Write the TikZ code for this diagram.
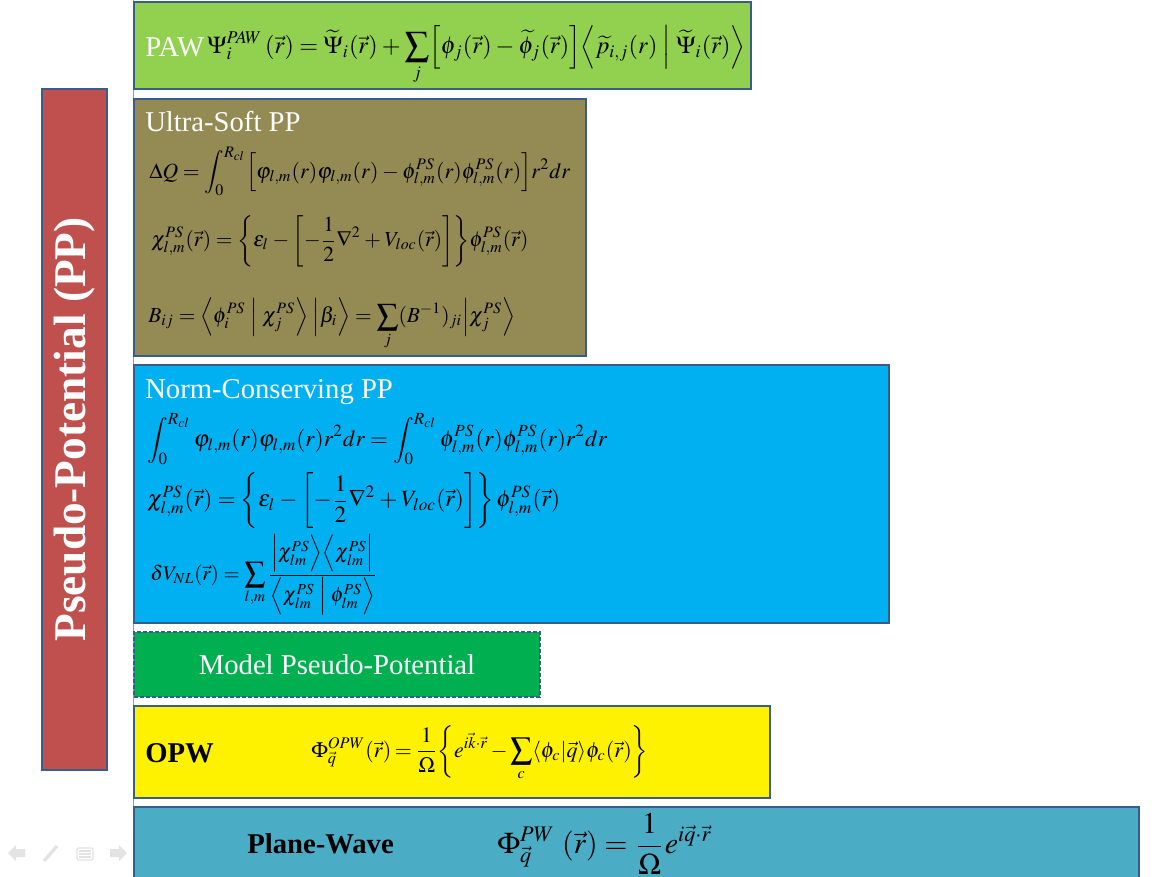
\documentclass[tikz,border=0pt]{standalone}
\usepackage{mathptmx}
\usepackage[no-math]{fontspec}
\setmainfont{Liberation Serif}
\usepackage{graphicx}

\definecolor{edgeblue}{HTML}{385D8A}
\definecolor{pawgreen}{HTML}{92D050}
\definecolor{usolive}{HTML}{948A54}
\definecolor{ncblue}{HTML}{00B0F0}
\definecolor{modelgreen}{HTML}{00B050}
\definecolor{ppred}{HTML}{C0504D}
\definecolor{pwteal}{HTML}{4BACC6}
\definecolor{navgray}{HTML}{E3E3E3}

\newlength\pxu
\setlength\pxu{0.75pt}
% width (in px), formula
\newcommand\eqfit[2]{\resizebox{#1\pxu}{!}{$\thickmuskip=4mu\medmuskip=3mu\displaystyle #2$}}

\tikzset{
  layer/.style={draw=edgeblue, line width=1.5pt, anchor=north west, inner sep=0pt},
  title/.style={anchor=base west, inner sep=0pt, font=\fontsize{21.5}{24}\selectfont},
  eq/.style={anchor=west, inner sep=0pt},
}

\begin{document}
\begin{tikzpicture}[x=0.75pt, y=-0.75pt]
  \useasboundingbox (0,0) rectangle (1170,876);
  % axis line behind the layers
  \coordinate (axtop) at (133,0);
  \coordinate (axbot) at (133,876);
  \draw[edgeblue!60, line width=0.6pt] (axtop) -- (axbot);

  % layers, top to bottom
  \node[layer, fill=pawgreen, minimum width=617\pxu, minimum height=87\pxu] (paw) at (133,1) {};
  \node[layer, fill=usolive, minimum width=452\pxu, minimum height=257\pxu] (uspp) at (133,98) {};
  \node[layer, fill=ncblue, minimum width=755\pxu, minimum height=258\pxu] (ncpp) at (133,364) {};
  \node[layer, fill=modelgreen, dash pattern=on 3pt off 1.5pt, minimum width=406\pxu, minimum height=65\pxu] (model) at (133,631) {};
  \node[layer, fill=yellow, minimum width=636\pxu, minimum height=92\pxu] (opw) at (133,705) {};
  \node[layer, fill=pwteal, minimum width=1005\pxu, minimum height=100\pxu] (pw) at (133,806) {};
  \node[layer, fill=ppred, minimum width=65\pxu, minimum height=681\pxu] (pp) at (41,88) {};

  \node[rotate=90, text=white, font=\bfseries\fontsize{34}{36}\selectfont] (pplabel) at (pp.center) {Pseudo-Potential (PP)};

  % PAW
  \node[title, text=white] (pawlabel) at (145,56) {PAW};
  \node[eq] (paweq) at (207,55) {\eqfit{538}{\Psi_i^{PAW}\,(\vec r)=\widetilde\Psi_i(\vec r)+\sum_j\Bigl[\phi_j(\vec r)-\widetilde\phi_j(\vec r)\Bigr]\Bigl\langle\widetilde p_{i,j}(r)\Bigm|\widetilde\Psi_i(\vec r)\Bigr\rangle}};

  % Ultra-soft
  \node[title, text=white] (uslabel) at (145,131) {Ultra-Soft PP};
  \node[eq] (useqa) at (149,171) {\eqfit{421}{\Delta Q=\int_0^{R_{cl}}\Bigl[\varphi_{l,m}(r)\varphi_{l,m}(r)-\phi^{PS}_{l,m}(r)\phi^{PS}_{l,m}(r)\Bigr]r^2dr}};
  \node[eq] (useqb) at (151,241) {\eqfit{377}{\chi^{PS}_{l,m}(\vec r)=\biggl\{\varepsilon_l-\biggl[-\frac12\nabla^2+V_{loc}(\vec r)\biggr]\biggr\}\phi^{PS}_{l,m}(\vec r)}};
  \node[eq] (useqc) at (148,324) {\eqfit{367}{B_{ij}=\Bigl\langle\phi^{PS}_i\Bigm|\chi^{PS}_j\Bigr\rangle\;\Bigl|\beta_i\Bigr\rangle=\sum_j(B^{-1})_{ji}\Bigl|\chi^{PS}_j\Bigr\rangle}};

  % Norm-conserving
  \node[title, text=white] (nclabel) at (145,398) {Norm-Conserving PP};
  \node[eq] (nceqa) at (147,439) {\eqfit{460}{\int_0^{R_{cl}}\varphi_{l,m}(r)\varphi_{l,m}(r)r^2dr=\int_0^{R_{cl}}\phi^{PS}_{l,m}(r)\phi^{PS}_{l,m}(r)r^2dr}};
  \node[eq] (nceqb) at (147,501) {\eqfit{413}{\chi^{PS}_{l,m}(\vec r)=\left\{\varepsilon_l-\left[-\frac12\nabla^2+V_{loc}(\vec r)\right]\right\}\phi^{PS}_{l,m}(\vec r)}};
  \node[eq] (nceqc) at (150,575) {\eqfit{227}{\delta V_{NL}(\vec r)=\sum_{l,m}\frac{\Bigl|\chi^{PS}_{lm}\Bigr\rangle\Bigl\langle\chi^{PS}_{lm}\Bigr|}{\Bigl\langle\chi^{PS}_{lm}\Bigm|\phi^{PS}_{lm}\Bigr\rangle}}};

  % Model
  \node[text=white, font=\fontsize{21.5}{24}\selectfont] (modellabel) at (model.center) {Model Pseudo-Potential};

  % OPW
  \node[title, font=\bfseries\fontsize{21.5}{24}\selectfont] (opwlabel) at (145,762) {OPW};
  \node[eq] (opweq) at (311,753) {\eqfit{337}{\thickmuskip=3mu\medmuskip=2mu\Phi^{OPW}_{\vec q}(\vec r)=\frac{1}{\Omega}\biggl\{e^{i\vec k\cdot\vec r}-\sum_c\langle\phi_c|\vec q\rangle\phi_c(\vec r)\biggr\}}};

  % Plane-wave
  \node[title, font=\bfseries\fontsize{21.5}{24}\selectfont] (pwlabel) at (247,853) {Plane-Wave};
  \node[eq] (pweq) at (497,844) {\eqfit{215}{\Phi^{PW}_{\vec q}\;(\vec r)=\frac{1}{\Omega}e^{i\vec q\cdot\vec r}}};

  % slide controls
  \fill[navgray] (8,853) -- (16,845) -- (16,849) -- (25,849) -- (25,857) -- (16,857) -- (16,861) -- cycle;
  \draw[navgray, line width=2.5pt] (44,861) -- (57,846);
  \draw[navgray, line width=1pt, rounded corners=1pt] (77,848) rectangle (93,860);
  \foreach \yy in {851,854,857}
    \draw[navgray, line width=0.8pt] (79,\yy) -- (91,\yy);
  \fill[navgray] (127,853) -- (119,845) -- (119,849) -- (110,849) -- (110,857) -- (119,857) -- (119,861) -- cycle;
\end{tikzpicture}
\end{document}
